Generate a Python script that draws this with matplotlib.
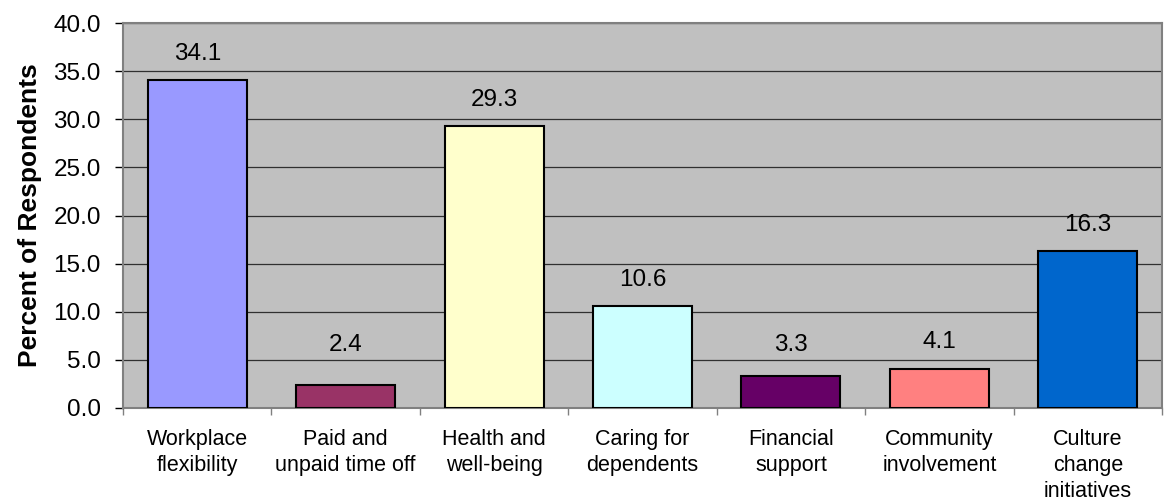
import matplotlib
matplotlib.use("Agg")
import matplotlib.pyplot as plt
import numpy as np

categories = ["Workplace\nflexibility", "Paid and\nunpaid time off", "Health and\nwell-being",
              "Caring for\ndependents", "Financial\nsupport", "Community\ninvolvement",
              "Culture\nchange\ninitiatives"]
values = [34.1, 2.4, 29.3, 10.6, 3.3, 4.1, 16.3]
colors = ["#9999FF", "#993366", "#FFFFCC", "#CCFFFF", "#660066", "#FF8080", "#0066CC"]
yticks = [0, 5, 10, 15, 20, 25, 30, 35, 40]

plt.rcParams['font.family'] = ['Liberation Sans', 'DejaVu Sans']

fig = plt.figure(figsize=(11.65, 5.01), dpi=100)
ax = fig.add_axes([123/1165, 1 - 408/501, (1162-123)/1165, (408-23)/501])
ax.set_facecolor("#C0C0C0")

x = np.arange(len(categories))
ax.bar(x, values, width=0.667, color=colors, edgecolor="black", linewidth=1.5, zorder=3)
for xi, v in zip(x, values):
    ax.text(xi, max(v + 2.1, 5.9), f"{v:.1f}", ha="center", va="baseline", fontsize=17.5, zorder=4)

ax.set_xlim(-0.5, len(categories) - 0.5)
ax.set_ylim(0, 40)
ax.set_yticks(yticks)
ax.set_yticklabels([f"{t:.1f}" for t in yticks], fontsize=17.5)
ax.yaxis.grid(True, color="#303030", linewidth=0.9, zorder=1)
ax.tick_params(axis="y", length=6, width=1, color="black", pad=10)

ax.set_xticks(x)
ax.set_xticklabels(categories, fontsize=15.5, linespacing=1.32)
ax.tick_params(axis="x", which="major", length=0, pad=15)
ax.set_xticks(np.arange(-0.5, len(categories)), minor=True)
ax.tick_params(axis="x", which="minor", length=5, width=1, color="#808080")

for s in ax.spines.values():
    s.set_color("#808080")
    s.set_linewidth(1.5)

ax.set_ylabel("Percent of Respondents", fontsize=19, fontweight="bold", labelpad=8)

fig.savefig("out.png", dpi=100)
